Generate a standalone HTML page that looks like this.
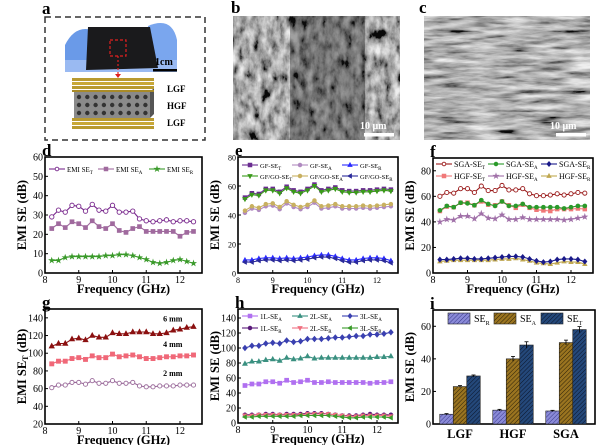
<!DOCTYPE html>
<html><head><meta charset="utf-8"><style>
html,body{margin:0;padding:0;background:#fff}
svg{display:block;font-family:"Liberation Serif",serif}
</style></head><body>
<svg id="fig" width="600" height="445" viewBox="0 0 600 445" xmlns="http://www.w3.org/2000/svg">
<defs>
<filter id="semB" x="0" y="0" width="100%" height="100%"><feTurbulence type="fractalNoise" baseFrequency="0.13 0.07" numOctaves="4" seed="3"/><feColorMatrix type="matrix" values="0.33 0.33 0.33 0 0 0.33 0.33 0.33 0 0 0.33 0.33 0.33 0 0 0 0 0 0 1"/><feComponentTransfer><feFuncR type="linear" slope="2.6" intercept="-0.85"/><feFuncG type="linear" slope="2.6" intercept="-0.85"/><feFuncB type="linear" slope="2.6" intercept="-0.85"/></feComponentTransfer></filter>
<filter id="semC" x="0" y="0" width="100%" height="100%"><feTurbulence type="fractalNoise" baseFrequency="0.03 0.2" numOctaves="4" seed="7"/><feColorMatrix type="matrix" values="0.33 0.33 0.33 0 0 0.33 0.33 0.33 0 0 0.33 0.33 0.33 0 0 0 0 0 0 1"/><feComponentTransfer><feFuncR type="linear" slope="2.6" intercept="-0.8"/><feFuncG type="linear" slope="2.6" intercept="-0.8"/><feFuncB type="linear" slope="2.6" intercept="-0.8"/></feComponentTransfer></filter>
<pattern id="hR" width="3" height="3" patternUnits="userSpaceOnUse" patternTransform="rotate(45)"><rect width="3" height="3" fill="#8a8ad8"/><line x1="0" y1="0" x2="0" y2="3" stroke="#3a3a8a" stroke-width="1"/></pattern>
<pattern id="hA" width="3" height="3" patternUnits="userSpaceOnUse" patternTransform="rotate(45)"><rect width="3" height="3" fill="#9a7420"/><line x1="0" y1="0" x2="0" y2="3" stroke="#2a2008" stroke-width="1"/></pattern>
<pattern id="hT" width="3" height="3" patternUnits="userSpaceOnUse" patternTransform="rotate(45)"><rect width="3" height="3" fill="#24487a"/><line x1="0" y1="0" x2="0" y2="3" stroke="#0a1428" stroke-width="1"/></pattern>
</defs>

<!-- panel a -->
<g>
<text x="42" y="14" font-size="17" font-weight="bold">a</text>
<rect x="45" y="17" width="160" height="123" fill="none" stroke="#333" stroke-width="1.5" stroke-dasharray="6,4"/>
<g>
<rect x="65" y="20" width="112" height="52" fill="#fff"/>
<path d="M65 45 Q75 25 92 30 L92 72 L65 72 Z" fill="#6a9ae8"/>
<path d="M148 26 Q172 16 177 40 L177 72 L148 72 Z" fill="#7aa6ee"/>
<rect x="65" y="60" width="112" height="12" fill="#9abaf2"/>
<path d="M88 27 L150 27 L158 68 L86 70 Z" fill="#1a1a1c"/>
<rect x="110" y="40" width="16" height="16" fill="none" stroke="#e02020" stroke-width="1.2" stroke-dasharray="3,2"/>
<line x1="118" y1="56" x2="118" y2="76" stroke="#e02020" stroke-width="1.2" stroke-dasharray="2,2"/>
<path d="M115 74 L121 74 L118 78 Z" fill="#e02020"/>
<text x="155" y="65" font-size="10" font-weight="bold" fill="#000">1cm</text>
<rect x="153" y="69" width="24" height="2.5" fill="#000"/>
</g>
<g>
<rect x="74" y="92" width="76" height="26" fill="#8a8a8a"/>
<polygon points="150,92 154,88 154,114 150,118" fill="#555"/>
<rect x="72" y="78" width="82" height="3" fill="#b89a30"/><rect x="72" y="82" width="82" height="3" fill="#c8a838"/><rect x="72" y="86" width="82" height="3" fill="#b89a30"/><rect x="72" y="90" width="82" height="2" fill="#a88a28"/>
<rect x="72" y="118" width="82" height="3" fill="#b89a30"/><rect x="72" y="122" width="82" height="3" fill="#c8a838"/><rect x="72" y="126" width="82" height="3" fill="#b89a30"/>
<g fill="#333" id="holes"></g>
<text x="167" y="92" font-size="9" font-weight="bold">LGF</text>
<text x="167" y="109" font-size="9" font-weight="bold">HGF</text>
<text x="167" y="126" font-size="9" font-weight="bold">LGF</text>
</g>
</g>

<!-- panel b -->
<g>
<text x="231" y="13" font-size="17" font-weight="bold">b</text>
<rect x="233" y="16" width="167" height="124" fill="#5a5a5a"/>
<rect x="233" y="16" width="167" height="124" filter="url(#semB)" opacity="0.9"/>
<rect x="290" y="16" width="75" height="124" fill="#111" opacity="0.35"/>
<text x="360" y="129" font-size="10" font-weight="bold" fill="#fff">10 μm</text>
<rect x="364" y="133" width="30" height="3.5" fill="#fff"/>
</g>

<!-- panel c -->
<g>
<text x="419" y="13" font-size="17" font-weight="bold">c</text>
<rect x="424" y="16" width="166" height="124" fill="#6a6a6a"/>
<rect x="424" y="16" width="166" height="124" filter="url(#semC)" opacity="0.9"/>
<text x="550" y="129" font-size="10" font-weight="bold" fill="#fff">10 μm</text>
<rect x="556" y="133" width="30" height="3.5" fill="#fff"/>
</g>

<g id="charts"></g>
</svg>
<script>
// ---------- data ----------
const freq = [8.2,8.4,8.6,8.8,9.0,9.2,9.4,9.6,9.8,10.0,10.2,10.4,10.6,10.8,11.0,11.2,11.4,11.6,11.8,12.0,12.2,12.4];
// panel d
const dSET = [29,32.5,31.5,35,34.5,32,35.5,32.5,32,35,31.5,31.5,32,28,27,26.5,27,27.5,26.5,27,27,26.5];
const dSEA = [23,25.5,23.5,26.5,25.5,23.5,27,24,23,25.5,22,21,23,24,21.5,21.5,21.5,21.5,21.5,19,21,21.5];
const dSER = [6.5,6.5,8,8.5,8.5,8.5,8.5,8.5,9,9,9.5,9.5,9,8,7,5.5,5,5.5,6.5,7,6,5];
// panel e
const eGFT = [52,55,54.5,58,58,56,59.5,57,56,58,61,57,58,59,57,56.5,56.5,57,57,57.5,58,57.5];
const eGFA = [41.5,44.5,43.5,46,46.5,44,48,45.5,44,45.5,48.5,44.5,45,46,44.5,44.5,44.5,45,44.5,45,45.5,46];
const eGFR = [9,9,10,10.5,10.5,10,10.5,10,10.5,11,12,12.5,12.5,11.5,10,9,9,10,10.5,10.5,10,8.5];
const eGOT = [51,54,53.5,57,57,55,58.5,56,55,57,60,56,57,58,56,55.5,55.5,56,56,56.5,57,56.5];
const eGOA = [43,46,45,47.5,48,45.5,49.5,47,45.5,47,50,46,46.5,47.5,46,46,46,46.5,46,46.5,47,47.5];
const eGOR = [7.5,7.5,8.5,9,9,8.5,9,8.5,9,9.5,10.5,11,11,10,8.5,7.5,7.5,8.5,9,9,8.5,7];
// panel f
const fSGAT = [60,63,62.5,66,66,63,68,64.5,64.5,68.5,65,65,66,62,60.5,60.5,61,62,61,62,63,62.5];
const fSGAA = [49,52.5,51.5,55,54.5,53,57,54,52.5,56,52.5,52.5,54,51.5,51.5,51.5,51.5,51.5,50.5,51.5,52.5,52.5];
const fSGAR = [10.5,10.5,11,11.5,11.5,11,11,11.5,12,12.5,13,13,12.5,11,9.5,8.5,9,10.5,11,11,10.5,9];
const fHGFT = [48.5,52,51.5,55,55,53,56,53.5,53,56,53,51,53.5,51,49.5,49,48.5,50,50,50,50.5,50];
const fHGFA = [40,42,41.5,44.5,44.5,42.5,46.5,43,42.5,45.5,42,42,43.5,42,42,42,42,42,41.5,42,43,44];
const fHGFR = [9,9.5,10,10,10,10,10,10,10.5,11,11,11.5,10.5,9.5,8,7.5,7,8,9,8.5,8.5,7];
// panel g
const g6mm = [108,111,111,116,117,115,120,118,118,123,122,122,124,124,124,122,122,123,126,127,129,130];
const g4mm = [88,91,91,94,95,93,97,95,95,99,96,97,98,96,94,94,95,96,96,97,97,98];
const g2mm = [61,64,64,67,67,65,69,66,66,69,66,66,67,63,62,62,63,63,63,64,64,64];
// panel h
const h1LA = [50,52,52,55,55,53,57,54,55,57,54,54,55,54,54,54,54,54,53,54,54,55];
const h2LA = [79,82,82,84,85,83,87,85,86,89,86,87,87,87,87,87,87,87,87,88,88,89];
const h3LA = [100,103,103,106,107,106,110,108,109,112,112,112,113,114,114,115,116,116,118,118,119,121];
const h1LR = [11,11,11,12,12,11,12,12,12,13,13,13,12,11,10,10,10,11,12,11,11,11];
const h2LR = [10,10,11,11,11,11,11,11,11,12,12,12,12,11,10,9,9,10,10,10,10,9];
const h3LR = [8,8,9,9,9,9,9,9,10,10,10,10,10,9,8,7,7,8,8,8,8,7];
// panel i
const iGroups = ["LGF","HGF","SGA"];
const iSER = [6,8.5,8];
const iSEA = [23,40,50];
const iSET = [29.5,48.5,58];
const iErrR = [0.4,0.5,0.4];
const iErrA = [0.6,1.5,1.5];
const iErrT = [0.6,2,1.8];
// ticks
const freqTicks = [8,9,10,11,12];
const dYTicks = [0,10,20,30,40,50,60];
const eYTicks = [0,20,40,60,80];
const fYTicks = [0,20,40,60,80];
const gYTicks = [20,40,60,80,100,120,140];
const hYTicks = [0,20,40,60,80,100,120,140];
const iYTicks = [0,20,40,60];

// ---------- drawing ----------
const NS = "http://www.w3.org/2000/svg";
const root = document.getElementById('charts');
function mk(tag, attrs, parent){
  const e = document.createElementNS(NS, tag);
  for (const k in attrs) e.setAttribute(k, attrs[k]);
  (parent||root).appendChild(e);
  return e;
}
const hg = document.getElementById('holes');
for (let r=0;r<3;r++) for (let c=0;c<9;c++){
  mk('circle',{cx:79+c*8.3,cy:97+r*8,r:2.2},hg);
}

function marker(g, shape, x, y, color, s, filled){
  const fill = filled ? color : '#fff';
  const st = {stroke:color,'stroke-width':0.9,fill:fill};
  let e;
  if (shape==='circle') e = mk('circle',Object.assign({cx:x,cy:y,r:s},st),g);
  else if (shape==='square') e = mk('rect',Object.assign({x:x-s,y:y-s,width:2*s,height:2*s},st),g);
  else if (shape==='tri') e = mk('polygon',Object.assign({points:`${x},${y-s*1.2} ${x-s*1.1},${y+s*0.8} ${x+s*1.1},${y+s*0.8}`},st),g);
  else if (shape==='dtri') e = mk('polygon',Object.assign({points:`${x},${y+s*1.2} ${x-s*1.1},${y-s*0.8} ${x+s*1.1},${y-s*0.8}`},st),g);
  else if (shape==='ltri') e = mk('polygon',Object.assign({points:`${x-s*1.2},${y} ${x+s*0.8},${y-s*1.1} ${x+s*0.8},${y+s*1.1}`},st),g);
  else if (shape==='diamond') e = mk('polygon',Object.assign({points:`${x},${y-s*1.3} ${x+s*1.1},${y} ${x},${y+s*1.3} ${x-s*1.1},${y}`},st),g);
  else if (shape==='star'){
    let p=[];for(let i=0;i<10;i++){const a=-Math.PI/2+i*Math.PI/5;const r=i%2?s*0.5:s*1.3;p.push((x+r*Math.cos(a)).toFixed(1)+','+(y+r*Math.sin(a)).toFixed(1));}
    e = mk('polygon',Object.assign({points:p.join(' ')},st),g);
  }
  return e;
}

function frame(name, box, yMin, yMax, yTicks, ylabel, xlabel, tickFs, panelLabel){
  const g = mk('g',{});
  
  
  const [L,T,R,B] = box;
  const sx = v => L + (v-8)*(box[4]||33.75);
  const sy = v => B - (v-yMin)/(yMax-yMin)*(B-T);
  const yax = mk('g',{},g);
  
  
  yTicks.forEach(t=>{
    mk('line',{x1:L,x2:L+3,y1:sy(t),y2:sy(t),stroke:'#000','stroke-width':1},yax);
    const tx = mk('text',{x:L-2,y:sy(t)+3.5,'font-size':tickFs,'text-anchor':'end'},yax);
    tx.textContent = t;
    
    
  });
  const xax = mk('g',{},g);
  
  
  if (xlabel!==null){
    freqTicks.forEach(t=>{
      mk('line',{x1:sx(t),x2:sx(t),y1:B,y2:B-3,stroke:'#000','stroke-width':1},xax);
      const tx = mk('text',{x:sx(t),y:B+10,'font-size':tickFs,'text-anchor':'middle'},xax);
      tx.textContent = t;
      
      
    });
    const xl = mk('text',{x:(L+R)/2,y:B+20,'font-size':12.5,'font-weight':'bold','text-anchor':'middle'},xax);
    xl.textContent = xlabel;
    
    
  }
  const yl = mk('text',{x:0,y:0,'font-size':12.5,'font-weight':'bold','text-anchor':'middle',transform:`translate(${L-19},${(T+B)/2}) rotate(-90)`},yax);
  yl.innerHTML = ylabel;
  
  
  mk('rect',{x:L,y:T,width:R-L,height:B-T,fill:'none',stroke:'#000','stroke-width':1.6},g);
  const pl = mk('text',{x:L-3,y:T-1,'font-size':17,'font-weight':'bold'},g);
  pl.textContent = panelLabel;
  
  
  return {g,sx,sy};
}

function series(ax, name, vals, color, shape, filled, ms, err){
  const g = mk('g',{},ax.g);
  
  
  const pts = vals.map((v,i)=>ax.sx(freq[i]).toFixed(1)+','+ax.sy(v).toFixed(1)).join(' ');
  mk('polyline',{points:pts,fill:'none',stroke:color,'stroke-width':1.1},g);
  vals.forEach((v,i)=>{
    if (err){ mk('line',{x1:ax.sx(freq[i]),x2:ax.sx(freq[i]),y1:ax.sy(v-err),y2:ax.sy(v+err),stroke:color,'stroke-width':0.7},g); }
    const m = marker(g, shape, ax.sx(freq[i]), ax.sy(v), color, ms, filled);
    
    
  });
}

function legendItem(parent, x, y, color, shape, filled, html, fs){
  const g = mk('g',{},parent);
  
  
  mk('line',{x1:x,x2:x+16,y1:y,y2:y,stroke:color,'stroke-width':1.1},g);
  marker(g, shape, x+8, y, color, 1.8, filled);
  const t = mk('text',{x:x+18,y:y+3,'font-size':fs},g);
  t.innerHTML = html;
}
const sub = s => `<tspan font-size="5" dy="2">${s}</tspan>`;

// ---- d ----
let ax = frame('chart-d',[45,157,202,273],0,60,dYTicks,'EMI SE (dB)','Frequency (GHz)',10,'d');
series(ax,'series-emi-se-t',dSET,'#7a2a8e','circle',false,2.2);
series(ax,'series-emi-se-a',dSEA,'#a06a9e','square',true,1.9);
series(ax,'series-emi-se-r',dSER,'#3a9a2a','star',true,1.8);
let lg = mk('g',{},ax.g);  
legendItem(lg,49,169,'#7a2a8e','circle',false,'EMI SE'+sub('T'),7);
legendItem(lg,98,169,'#a06a9e','square',true,'EMI SE'+sub('A'),7);
legendItem(lg,149,169,'#3a9a2a','star',true,'EMI SE'+sub('R'),7);

// ---- e ----
ax = frame('chart-e',[238,157,398,273,34.75],0,80,eYTicks,'EMI SE (dB)','Frequency (GHz)',8,'e');
series(ax,'series-gf-se-t',eGFT,'#6a2c91','square',true,1.8);
series(ax,'series-gf-se-a',eGFA,'#b08ac0','circle',true,1.8);
series(ax,'series-gf-se-r',eGFR,'#2a2aff','tri',true,1.8,1);
series(ax,'series-gfgo-se-t',eGOT,'#3a9a1a','dtri',true,1.9);
series(ax,'series-gfgo-se-a',eGOA,'#c8b060','circle',true,1.8);
series(ax,'series-gfgo-se-r',eGOR,'#2a2a9a','ltri',true,1.8,1);
lg = mk('g',{},ax.g);  
legendItem(lg,242,165,'#6a2c91','square',true,'GF-SE'+sub('T'),6.5);
legendItem(lg,292,165,'#b08ac0','circle',true,'GF-SE'+sub('A'),6.5);
legendItem(lg,342,165,'#2a2aff','tri',true,'GF-SE'+sub('R'),6.5);
legendItem(lg,242,176,'#3a9a1a','dtri',true,'GF/GO-SE'+sub('T'),6.5);
legendItem(lg,292,176,'#c8b060','circle',true,'GF/GO-SE'+sub('A'),6.5);
legendItem(lg,342,176,'#2a2a9a','ltri',true,'GF/GO-SE'+sub('R'),6.5);

// ---- f ----
ax = frame('chart-f',[433,158,593,273,34.5],0,90,fYTicks,'EMI SE (dB)','Frequency (GHz)',10,'f');
series(ax,'series-hgf-se-t',fHGFT,'#f07878','square',true,1.8,1.5);
series(ax,'series-hgf-se-a',fHGFA,'#a070a8','star',true,1.8,1.5);
series(ax,'series-hgf-se-r',fHGFR,'#c0a850','tri',true,1.8,1);
series(ax,'series-sga-se-t',fSGAT,'#9a1a1a','circle',false,2.1,1);
series(ax,'series-sga-se-a',fSGAA,'#2a9a2a','circle',true,1.9,1);
series(ax,'series-sga-se-r',fSGAR,'#1a1a8a','diamond',true,1.8,1);
lg = mk('g',{},ax.g);  
legendItem(lg,436,164,'#9a1a1a','circle',false,'SGA-SE'+sub('T'),8);
legendItem(lg,488,164,'#2a9a2a','circle',true,'SGA-SE'+sub('A'),8);
legendItem(lg,541,164,'#1a1a8a','diamond',true,'SGA-SE'+sub('R'),8);
legendItem(lg,436,176,'#f07878','square',true,'HGF-SE'+sub('T'),8);
legendItem(lg,488,176,'#a070a8','star',true,'HGF-SE'+sub('A'),8);
legendItem(lg,541,176,'#c0a850','tri',true,'HGF-SE'+sub('R'),8);

// ---- g ----
ax = frame('chart-g',[45,309,202,424],20,150,gYTicks,'EMI SE'+'<tspan font-size="8" dy="2">T</tspan><tspan dy="-2"> (dB)</tspan>','Frequency (GHz)',10,'g');
series(ax,'series-6mm',g6mm,'#8b1010','tri',true,2.2);
series(ax,'series-4mm',g4mm,'#f06878','square',true,2);
series(ax,'series-2mm',g2mm,'#9a6a9a','circle',false,2.1);
[['6 mm',g6mm[19]+8],['4 mm',g4mm[19]+9],['2 mm',g2mm[19]+9]].forEach(a=>{
  const t = mk('text',{x:ax.sx(11.5),y:ax.sy(a[1])-1,'font-size':8,'font-weight':'bold'},ax.g);
  t.textContent = a[0];
  
  
});

// ---- h ----
ax = frame('chart-h',[238,309,398,423,34.75],0,152,hYTicks,'EMI SE (dB)','Frequency (GHz)',10,'h');
series(ax,'series-1l-se-a',h1LA,'#b070f0','square',true,1.9);
series(ax,'series-2l-se-a',h2LA,'#3a9080','tri',true,2);
series(ax,'series-3l-se-a',h3LA,'#3a40b0','diamond',true,2);
series(ax,'series-1l-se-r',h1LR,'#5a1a7a','circle',true,1.8);
series(ax,'series-2l-se-r',h2LR,'#f07080','dtri',true,1.8);
series(ax,'series-3l-se-r',h3LR,'#3a9a2a','ltri',true,1.8);
lg = mk('g',{},ax.g);  
legendItem(lg,242,316,'#b070f0','square',true,'1L-SE'+sub('A'),7);
legendItem(lg,292,316,'#3a9080','tri',true,'2L-SE'+sub('A'),7);
legendItem(lg,342,316,'#3a40b0','diamond',true,'3L-SE'+sub('A'),7);
legendItem(lg,242,328,'#5a1a7a','circle',true,'1L-SE'+sub('R'),7);
legendItem(lg,292,328,'#f07080','dtri',true,'2L-SE'+sub('R'),7);
legendItem(lg,342,328,'#3a9a2a','ltri',true,'3L-SE'+sub('R'),7);

// ---- i ----
ax = frame('chart-i',[433,310,595,424],0,70,iYTicks,'EMI SE (dB)',null,10,'i');
const iCenter = i => 460 + i*53;
const bw = 13.5;
const iSets = [[iSER,iErrR,'url(#hR)','bar-se-r'],[iSEA,iErrA,'url(#hA)','bar-se-a'],[iSET,iErrT,'url(#hT)','bar-se-t']];
iGroups.forEach((gname,gi)=>{
  iSets.forEach((s,si)=>{
    const x = iCenter(gi) + (si-1)*bw - bw/2;
    const y = ax.sy(s[0][gi]);
    const r = mk('rect',{x:x,y:y,width:bw,height:424-y,fill:s[2],stroke:'#222','stroke-width':0.6},ax.g);
    
    
    const cx = x+bw/2;
    mk('line',{x1:cx,x2:cx,y1:ax.sy(s[0][gi]+s[1][gi]),y2:ax.sy(s[0][gi]-s[1][gi]),stroke:'#000','stroke-width':0.8},ax.g);
    mk('line',{x1:cx-2,x2:cx+2,y1:ax.sy(s[0][gi]+s[1][gi]),y2:ax.sy(s[0][gi]+s[1][gi]),stroke:'#000','stroke-width':0.8},ax.g);
  });
  const t = mk('text',{x:iCenter(gi),y:438,'font-size':12.5,'font-weight':'bold','text-anchor':'middle'},ax.g);
  t.textContent = gname;
  
  
});
lg = mk('g',{},ax.g);  
[['url(#hR)','R',448],['url(#hA)','A',494],['url(#hT)','T',541]].forEach(a=>{
  const e = mk('g',{},lg);
  
  
  mk('rect',{x:a[2],y:313,width:22,height:11,fill:a[0],stroke:'#222','stroke-width':0.6},e);
  const t = mk('text',{x:a[2]+26,y:322,'font-size':10},e);
  t.innerHTML = 'SE<tspan font-size="6" dy="3">'+a[1]+'</tspan>';
});
</script>
</body></html>
